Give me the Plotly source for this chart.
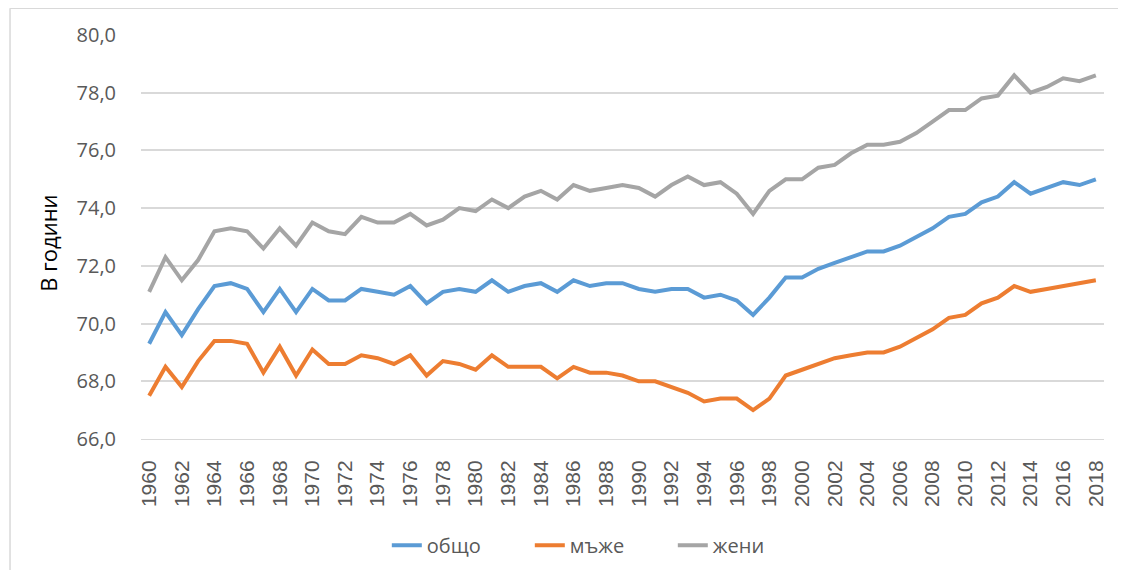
import plotly.graph_objects as go

years = list(range(1960, 2019))

obshto = [69.3, 70.4, 69.6, 70.5, 71.3, 71.4, 71.2, 70.4, 71.2, 70.4,
          71.2, 70.8, 70.8, 71.2, 71.1, 71.0, 71.3, 70.7, 71.1, 71.2,
          71.1, 71.5, 71.1, 71.3, 71.4, 71.1, 71.5, 71.3, 71.4, 71.4,
          71.2, 71.1, 71.2, 71.2, 70.9, 71.0, 70.8, 70.3, 70.9, 71.6,
          71.6, 71.9, 72.1, 72.3, 72.5, 72.5, 72.7, 73.0, 73.3, 73.7,
          73.8, 74.2, 74.4, 74.9, 74.5, 74.7, 74.9, 74.8, 75.0]

muzhe = [67.5, 68.5, 67.8, 68.7, 69.4, 69.4, 69.3, 68.3, 69.2, 68.2,
         69.1, 68.6, 68.6, 68.9, 68.8, 68.6, 68.9, 68.2, 68.7, 68.6,
         68.4, 68.9, 68.5, 68.5, 68.5, 68.1, 68.5, 68.3, 68.3, 68.2,
         68.0, 68.0, 67.8, 67.6, 67.3, 67.4, 67.4, 67.0, 67.4, 68.2,
         68.4, 68.6, 68.8, 68.9, 69.0, 69.0, 69.2, 69.5, 69.8, 70.2,
         70.3, 70.7, 70.9, 71.3, 71.1, 71.2, 71.3, 71.4, 71.5]

zheni = [71.1, 72.3, 71.5, 72.2, 73.2, 73.3, 73.2, 72.6, 73.3, 72.7,
         73.5, 73.2, 73.1, 73.7, 73.5, 73.5, 73.8, 73.4, 73.6, 74.0,
         73.9, 74.3, 74.0, 74.4, 74.6, 74.3, 74.8, 74.6, 74.7, 74.8,
         74.7, 74.4, 74.8, 75.1, 74.8, 74.9, 74.5, 73.8, 74.6, 75.0,
         75.0, 75.4, 75.5, 75.9, 76.2, 76.2, 76.3, 76.6, 77.0, 77.4,
         77.4, 77.8, 77.9, 78.6, 78.0, 78.2, 78.5, 78.4, 78.6]

series = [("общо", obshto, "#5B9BD5"),
          ("мъже", muzhe, "#ED7D31"),
          ("жени", zheni, "#A5A5A5")]

fig = go.Figure()
for name, vals, color in series:
    fig.add_trace(go.Scatter(x=years, y=vals, name=name, mode="lines",
                             line=dict(color=color, width=4)))

# the page has an 8px body margin, so the figure is a bit smaller than the window
fig.update_layout(
    width=1110, height=562,
    paper_bgcolor="white", plot_bgcolor="white",
    margin=dict(l=133, r=14, t=27, b=131, autoexpand=False),
    font=dict(family="Open Sans", color="#595959", size=20),
    separators=", ",
    showlegend=True,
    legend=dict(orientation="h", x=0.478, xanchor="center",
                yref="container", y=0.044, yanchor="middle",
                font=dict(size=20, color="#595959"),
                entrywidth=98, entrywidthmode="pixels", itemwidth=30),
    shapes=[dict(type="line", xref="paper", yref="paper",
                 x0=-0.136, x1=-0.136, y0=-0.4, y1=1.066,
                 line=dict(color="#d9d9d9", width=1.5)),
            dict(type="line", xref="paper", yref="paper",
                 x0=-0.136, x1=1.1, y0=1.066, y1=1.066,
                 line=dict(color="#d9d9d9", width=1.5))],
    annotations=[dict(text="В години", textangle=-90, xref="paper", yref="paper",
                      x=-0.097, y=0.485, xanchor="center", yanchor="middle",
                      showarrow=False, font=dict(size=22, color="black"))],
)
fig.update_xaxes(range=[1959.5, 2018.5], tickmode="array",
                 tickvals=years[::2], ticktext=[str(y) for y in years[::2]],
                 tickangle=-90, tickfont=dict(family="Liberation Sans", size=21),
                 showgrid=False, showline=True, linecolor="#d9d9d9",
                 ticks="outside", ticklen=12, tickcolor="rgba(0,0,0,0)",
                 automargin=False)
fig.update_yaxes(range=[66, 80], dtick=2, tickformat=".1f",
                 gridcolor="#d9d9d9", gridwidth=1.5, zeroline=False,
                 tickfont=dict(size=20), ticks="outside", ticklen=20,
                 tickcolor="rgba(0,0,0,0)", automargin=False)

fig.write_html("out.html")
